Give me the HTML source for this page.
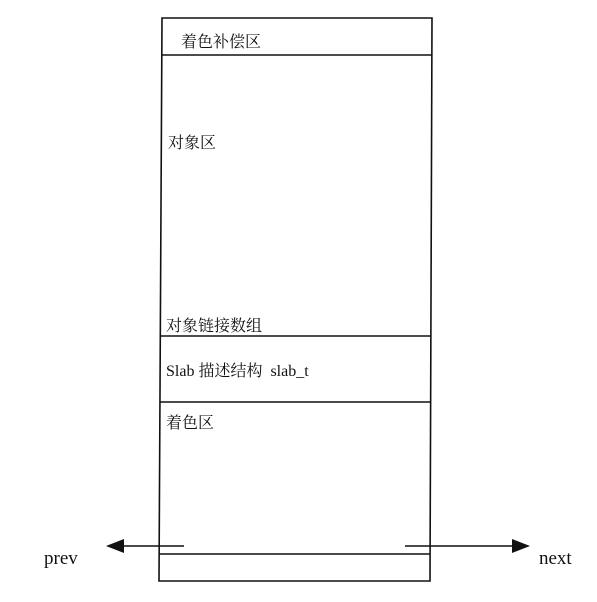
<html><body style="margin:0;background:#fff;width:597px;height:602px;position:relative;overflow:hidden;font-family:'Liberation Serif','Noto Serif CJK SC',serif;font-size:16px;color:#111">
<svg width="597" height="602" style="position:absolute;left:0;top:0">
<g stroke="#111" stroke-width="1.6" fill="none">
<path d="M162 18 L432 18 L430 581 L159 581 Z"/>
<line x1="162" y1="55" x2="432" y2="55"/>
<line x1="160" y1="336" x2="431" y2="336"/>
<line x1="160" y1="402" x2="431" y2="402"/>
<line x1="159" y1="554" x2="430" y2="554"/>
<line x1="118" y1="546" x2="184" y2="546"/>
<line x1="405" y1="546" x2="516" y2="546"/>
</g>
<polygon points="106,546 124,539 124,553" fill="#111"/>
<polygon points="530,546 512,539 512,553" fill="#111"/>
</svg>
<div style="position:absolute;left:181px;top:29px">着色补偿区</div>
<div style="position:absolute;left:168px;top:130px">对象区</div>
<div style="position:absolute;left:166px;top:313px">对象链接数组</div>
<div style="position:absolute;left:166px;top:358px">Slab 描述结构&nbsp; slab_t</div>
<div style="position:absolute;left:166px;top:410px">着色区</div>
<div style="position:absolute;left:44px;top:548px;font-size:19px">prev</div>
<div style="position:absolute;left:539px;top:548px;font-size:19px">next</div>
</body></html>
